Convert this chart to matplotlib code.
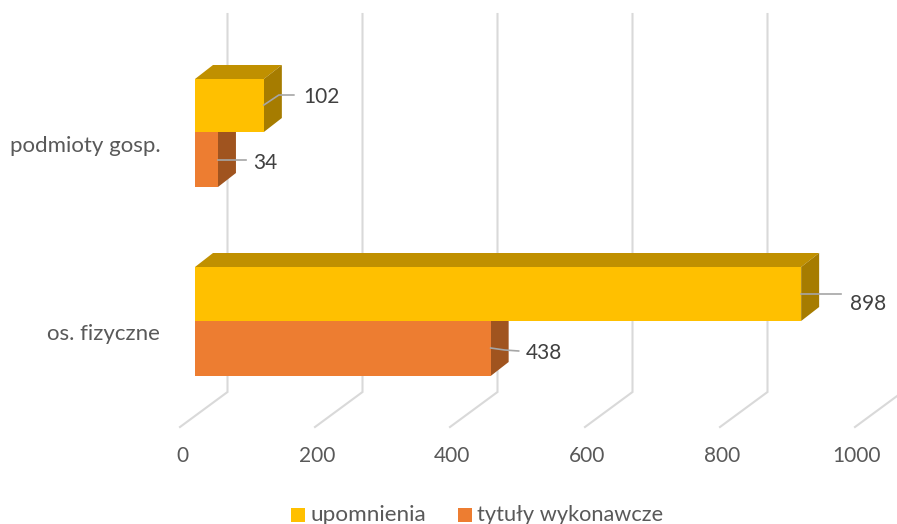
import matplotlib
matplotlib.use("Agg")
import matplotlib.pyplot as plt
from matplotlib.patches import Polygon, Rectangle

plt.rcParams['font.family'] = ['Lato', 'DejaVu Sans']

categories = ["podmioty gosp.", "os. fizyczne"]
upomnienia = [102, 898]
tytuly = [34, 438]
ticks = [0, 200, 400, 600, 800, 1000]
series_names = ["upomnienia", "tytuły wykonawcze"]

YELLOW = "#ffc000"
YELLOW_TOP = "#c09000"
YELLOW_SIDE = "#a67c00"
ORANGE = "#ed7d31"
ORANGE_TOP = "#be6427"
ORANGE_SIDE = "#a0541f"
GRID = "#d9d9d9"
LEADER = "#a6a6a6"

PX = 0.675  # pixels per value unit
X0 = 195
DEPTH_X = 18 / PX
DEPTH_Y = 14

fig = plt.figure(figsize=(8.97, 5.24), dpi=100)
ax = fig.add_axes([0, 0, 1, 1])
ax.set_xlim(-X0 / PX, (897 - X0) / PX)
ax.set_ylim(524, 0)
ax.axis("off")


def vx(px):
    # pixel offset from the zero of the bars, in value units
    return (px - X0) / PX


# walls and floor lines
for t in ticks:
    back = t + vx(227.5)
    front = t + vx(180)
    ax.plot([back, back, front], [14, 392, 427], color=GRID, lw=1.5,
            solid_joinstyle="miter", zorder=1)
    ax.text(t + vx(182), 456, str(t), ha="center", va="center",
            fontsize=15, color="#595959")


def bar3d(value, top, height, face, top_col, side_col):
    bottom = top + height
    ax.add_patch(Polygon([(0, top), (DEPTH_X, top - DEPTH_Y),
                          (value + DEPTH_X, top - DEPTH_Y), (value, top)],
                         closed=True, fc=top_col, ec="none", zorder=3))
    ax.add_patch(Polygon([(value, top), (value + DEPTH_X, top - DEPTH_Y),
                          (value + DEPTH_X, bottom - DEPTH_Y), (value, bottom)],
                         closed=True, fc=side_col, ec="none", zorder=3))
    ax.barh(top + height / 2, value, height=height, color=face, zorder=4)


# orange first so that the yellow top of the next bar stays clean
bar3d(tytuly[0], 132, 55, ORANGE, ORANGE_TOP, ORANGE_SIDE)
bar3d(upomnienia[0], 79, 53, YELLOW, YELLOW_TOP, YELLOW_SIDE)
bar3d(tytuly[1], 321, 55, ORANGE, ORANGE_TOP, ORANGE_SIDE)
bar3d(upomnienia[1], 267, 54, YELLOW, YELLOW_TOP, YELLOW_SIDE)

# leader lines and value labels
ax.plot([upomnienia[0], upomnienia[0] + vx(280) - vx(265), upomnienia[0] + vx(295) - vx(265)],
        [105, 95, 95], color=LEADER, lw=1.2, zorder=5)
ax.text(upomnienia[0] + vx(304) - vx(265), 97, str(upomnienia[0]), va="center",
        fontsize=15, color="#404040", zorder=6)

ax.plot([tytuly[0], tytuly[0] + vx(246) - vx(218)], [160, 160], color=LEADER, lw=1.2, zorder=5)
ax.text(tytuly[0] + vx(253) - vx(218), 163, str(tytuly[0]), va="center",
        fontsize=15, color="#404040", zorder=6)

ax.plot([upomnienia[1], upomnienia[1] + vx(842) - vx(802)], [294, 294], color=LEADER, lw=1.2, zorder=5)
ax.text(upomnienia[1] + vx(851) - vx(802), 304, str(upomnienia[1]), va="center",
        fontsize=15, color="#404040", zorder=6)

ax.plot([tytuly[1], tytuly[1] + vx(505) - vx(491), tytuly[1] + vx(519) - vx(491)],
        [348, 350, 351], color=LEADER, lw=1.2, zorder=5)
ax.text(tytuly[1] + vx(526) - vx(491), 353, str(tytuly[1]), va="center",
        fontsize=15, color="#404040", zorder=6)

# category labels
ax.text(vx(161), 146, categories[0], ha="right", va="center", fontsize=16, color="#595959")
ax.text(vx(160), 334, categories[1], ha="right", va="center", fontsize=16, color="#595959")

# legend
ax.add_patch(Rectangle((vx(291), 508), 14 / PX, 14, fc=YELLOW, ec="none"))
ax.text(vx(311), 515, series_names[0], va="center", fontsize=16.2, color="#595959")
ax.add_patch(Rectangle((vx(458), 508), 14 / PX, 14, fc=ORANGE, ec="none"))
ax.text(vx(477), 515, series_names[1], va="center", fontsize=15.7, color="#595959")

fig.savefig("out.png", dpi=100)
